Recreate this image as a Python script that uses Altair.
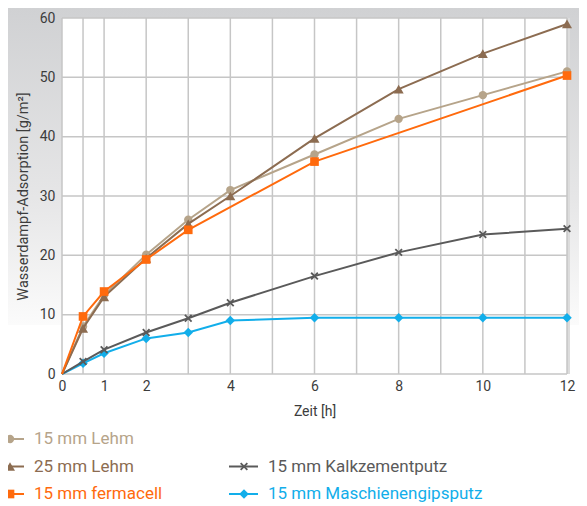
import altair as alt
import pandas as pd

FONT = "Roboto"
TXT = "#3c3c3c"

# ---- data -------------------------------------------------------------
series_names = ["15 mm Lehm", "25 mm Lehm", "15 mm fermacell",
                "15 mm Kalkzementputz", "15 mm Maschienengipsputz"]
series_colors = ["#b6a48a", "#8c6c51", "#ff6a0d", "#5a5a5a", "#12aeea"]
series_widths = [2, 2, 3, 2, 2.5]
series_shapes = ["circle", "triangle-up", "square", "M-1,-1L1,1M-1,1L1,-1", "diamond"]
series_sizes = [70, 100, 75, 45, 90]

time_h = [0, 0.5, 1, 2, 3, 4, 6, 8, 10, 12]
lehm15 = [0, 8.0, 13.3, 20.1, 26.0, 31.0, 37.0, 43.0, 47.0, 51.0]
lehm25 = [0, 7.7, 13.0, 19.5, 25.3, 30.0, 39.7, 48.0, 54.0, 59.0]
ferma_time = [0, 0.5, 1, 2, 3, 6, 12]
fermacell = [0, 9.7, 13.9, 19.3, 24.3, 35.8, 50.3]
kalk = [0, 2.1, 4.1, 7.0, 9.4, 12.0, 16.5, 20.5, 23.5, 24.5]
masch = [0, 1.8, 3.5, 6.0, 7.0, 9.0, 9.5, 9.5, 9.5, 9.5]

series_times = [time_h, time_h, ferma_time, time_h, time_h]
series_values = [lehm15, lehm25, fermacell, kalk, masch]
draw_order = [4, 3, 0, 1, 2]

grid_x = [0, 0.5, 1, 2, 3, 4, 5, 6, 7, 8, 9, 10, 11, 12]
grid_y = [0, 10, 20, 30, 40, 50, 60]
x_labels = [0, 1, 2, 4, 6, 8, 10, 12]

legend_col = [0, 0, 0, 1, 1]
legend_row = [0, 1, 2, 1, 2]

W, H = 505, 356

# ---- scales / axes ----------------------------------------------------
xscale = alt.Scale(domain=[0, 12], nice=False, zero=False)
yscale = alt.Scale(domain=[0, 60], nice=False)
cscale = alt.Scale(domain=series_names, range=series_colors)
wscale = alt.Scale(domain=series_names, range=series_widths)

xaxis = alt.Axis(values=x_labels, grid=False, domain=False, ticks=False, zindex=1,
                 labelFont=FONT, labelFontSize=14, labelColor=TXT, labelPadding=5,
                 labelFlush=False, title="Zeit [h]", titleFont=FONT, titleFontSize=14,
                 titleColor=TXT, titleFontWeight="normal", titlePadding=11)
yaxis = alt.Axis(values=grid_y, grid=False, domain=False, ticks=False, zindex=1,
                 labelFont=FONT, labelFontSize=14, labelColor=TXT, labelPadding=7,
                 title="Wasserdampf-Adsorption [g/m²]", titleFont=FONT, titleFontSize=14.5,
                 titleColor=TXT, titleFontWeight="normal", titlePadding=9)

X = alt.X("t:Q", scale=xscale, axis=xaxis)
Y = alt.Y("v:Q", scale=yscale, axis=yaxis)
C = alt.Color("series:N", scale=cscale, legend=None)
SW = alt.StrokeWidth("series:N", scale=wscale, legend=None)

one = pd.DataFrame({"k": [0]})
gradient = {"gradient": "linear", "x1": 0, "y1": 0, "x2": 0, "y2": 1,
            "stops": [{"offset": 0, "color": "#d0d1d3"},
                      {"offset": 0.6, "color": "#e6e6e7"},
                      {"offset": 1, "color": "#fbfbfb"}]}
bg = alt.Chart(one).mark_rect(color=gradient).encode(
    x=alt.value(-54), x2=alt.value(W + 12), y=alt.value(-10), y2=alt.value(307))
plot_bg = alt.Chart(one).mark_rect(color="white").encode(
    x=alt.value(0), x2=alt.value(W), y=alt.value(0), y2=alt.value(H))
edge = alt.Chart(one).mark_rect(color="#dcdcdc").encode(
    x=alt.value(W), x2=alt.value(W + 3), y=alt.value(0), y2=alt.value(H))

vgrid = alt.Chart(pd.DataFrame({"t": grid_x})).mark_rule(
    color="#c6c6c6", strokeWidth=1.5).encode(x=X)
hgrid = alt.Chart(pd.DataFrame({"v": grid_y})).mark_rule(
    color="#c6c6c6", strokeWidth=1.5).encode(y=Y)

layers = [bg, plot_bg, edge, vgrid, hgrid]
for i in draw_order:
    name = series_names[i]
    d = pd.DataFrame({"series": name, "t": series_times[i], "v": series_values[i]})
    layers.append(alt.Chart(d).mark_line().encode(x=X, y=Y, color=C, strokeWidth=SW))
    dp = d[d["t"] > 0]
    if series_shapes[i].startswith("M"):
        pts = alt.Chart(dp).mark_point(shape=series_shapes[i], filled=False,
                                       size=series_sizes[i], strokeWidth=1.8, opacity=1)
    else:
        pts = alt.Chart(dp).mark_point(shape=series_shapes[i], filled=True,
                                       size=series_sizes[i], opacity=1)
    layers.append(pts.encode(x=X, y=Y, color=C))

main = alt.layer(*layers)

# ---- legend -----------------------------------------------------------
leg = pd.DataFrame({"series": series_names, "lx": legend_col, "ly": legend_row})
LX = alt.X("lx:Q", scale=alt.Scale(domain=[0, 1], range=[-52, 182]), axis=None)
LY = alt.Y("ly:Q", scale=alt.Scale(domain=[0, 2], range=[421, 476]), axis=None)
leg_rule = alt.Chart(leg).mark_rule(xOffset=-15, x2Offset=14).encode(
    x=LX, x2=alt.X2("lx"), y=LY, color=C, strokeWidth=SW)
leg_layers = [leg_rule]
for i, name in enumerate(series_names):
    d = leg[leg["series"] == name]
    if series_shapes[i].startswith("M"):
        m = alt.Chart(d).mark_point(shape=series_shapes[i], filled=False,
                                    size=series_sizes[i], strokeWidth=1.8, opacity=1)
    else:
        m = alt.Chart(d).mark_point(shape=series_shapes[i], filled=True,
                                    size=series_sizes[i], opacity=1)
    leg_layers.append(m.encode(x=LX, y=LY, color=C))
leg_text = alt.Chart(leg).mark_text(align="left", baseline="middle", dx=24,
                                    font=FONT, fontSize=17).encode(
    x=LX, y=LY, text="series:N", color=C)
leg_layers.append(leg_text)
legend = alt.layer(*leg_layers)

chart = alt.layer(main, legend).resolve_scale(
    x="independent", y="independent"
).properties(
    width=W, height=H,
    autosize=alt.AutoSizeParams(type="none"),
    padding={"left": 54, "top": 10, "right": 12, "bottom": 128},
    background="white",
).configure_view(stroke=None)

chart.save("out.html", embed_options={"renderer": "svg", "actions": False})
